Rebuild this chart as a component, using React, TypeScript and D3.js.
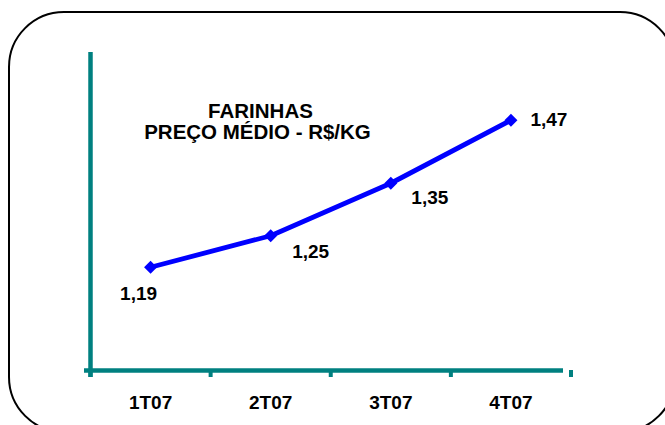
import React from "react";
import * as d3 from "d3";

const categories = ["1T07", "2T07", "3T07", "4T07"];
const values = [1.19, 1.25, 1.35, 1.47];
const valueLabels = ["1,19", "1,25", "1,35", "1,47"];
const titleLines = ["FARINHAS", "PREÇO MÉDIO - R$/KG"];

// label placement offsets relative to each point (layout only)
const labelDx = [-12, 40, 39, 38];
const labelDy = [33, 22, 21, 6];

const W = 665;
const H = 425;
const FONT = "'Liberation Sans', Arial, Helvetica, sans-serif";
const TEAL = "#008080";
const BLUE = "#0000FF";

export default function App() {
  const x = d3.scaleBand<string>().domain(categories).range([90.5, 571]).padding(0);
  const y = d3.scaleLinear().domain([1.0, 1.6]).range([367, 52]);
  const axisY = 370.5;
  const cx = (c: string) => (x(c) as number) + x.bandwidth() / 2;

  const line = d3
    .line<number>()
    .x((_, i) => cx(categories[i]))
    .y((d) => y(d));

  const tickXs = [...categories.map((c) => x(c) as number), x.range()[1]];
  const diamond = "M0,-6.5L6.5,0L0,6.5L-6.5,0Z";

  // frame
  const fx0 = 9, fy0 = 12, fx1 = 675, fy1 = 432, r = 55;

  return (
    <svg
      width={W}
      height={H}
      style={{ position: "absolute", left: 0, top: 0, background: "#fff" }}
      fontFamily={FONT}
    >
      <rect x={0} y={0} width={W} height={H} fill="#fff" />
      <rect
        x={fx0}
        y={fy0}
        width={fx1 - fx0}
        height={fy1 - fy0}
        rx={r}
        ry={r}
        fill="none"
        stroke="#000"
        strokeWidth={2}
      />
      {/* y axis */}
      <line x1={90.5} x2={90.5} y1={y(1.6)} y2={377} stroke={TEAL} strokeWidth={4.5} />
      {/* x axis */}
      <line x1={84} x2={563} y1={axisY} y2={axisY} stroke={TEAL} strokeWidth={4.5} />
      {tickXs.map((t, i) => (
        <line
          key={i}
          x1={t}
          x2={t}
          y1={i === tickXs.length - 1 ? 370 : axisY}
          y2={377}
          stroke={TEAL}
          strokeWidth={4}
        />
      ))}
      {categories.map((c) => (
        <text
          key={c}
          x={cx(c)}
          y={409}
          textAnchor="middle"
          fontSize={19}
          fontWeight="bold"
          fill="#000"
        >
          {c}
        </text>
      ))}
      {/* title */}
      <text x={260.5} y={117.5} textAnchor="middle" fontSize={20.5} fontWeight="bold">
        {titleLines[0]}
      </text>
      <text x={257.5} y={139} textAnchor="middle" fontSize={20.5} fontWeight="bold">
        {titleLines[1]}
      </text>
      {/* series */}
      <path d={line(values) || ""} fill="none" stroke={BLUE} strokeWidth={4.8} strokeLinejoin="round" />
      {values.map((v, i) => (
        <path key={i} d={diamond} transform={`translate(${cx(categories[i])},${y(v)})`} fill={BLUE} />
      ))}
      {values.map((v, i) => (
        <text
          key={"l" + i}
          x={cx(categories[i]) + labelDx[i]}
          y={y(v) + labelDy[i]}
          textAnchor="middle"
          fontSize={19}
          fontWeight="bold"
          fill="#000"
        >
          {valueLabels[i]}
        </text>
      ))}
    </svg>
  );
}
